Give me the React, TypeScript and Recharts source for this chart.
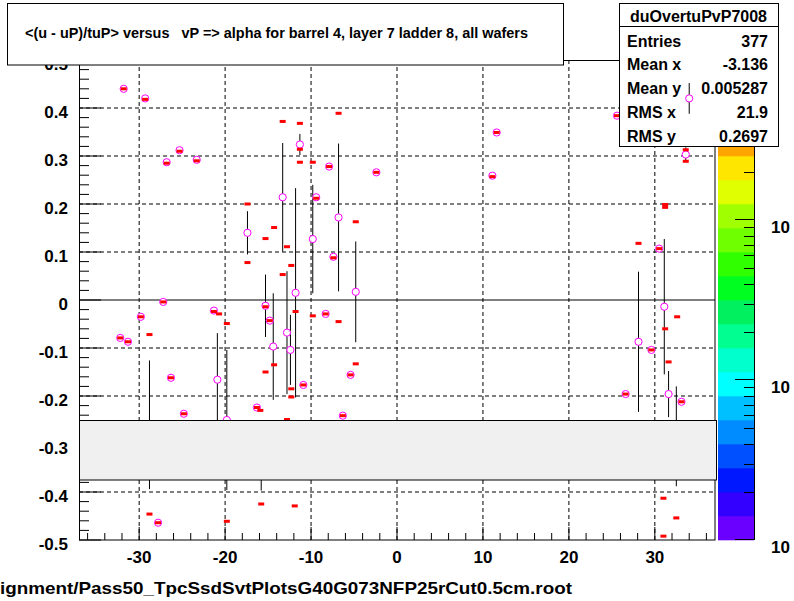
import React from 'react';
import { ScatterChart, Scatter, XAxis, YAxis, ErrorBar, ReferenceLine } from 'recharts';

// ---------- data ----------
// profile means (magenta open circles) with y errors
const profileX = [
  -31.8, -29.3, -25.3, -26.8, -23.3, -27.2, -29.8, -32.2, -31.3, -21.3,
  -26.3, -24.8, -20.9, -17.4, -19.8, -28.8, -11.3, -13.3, -9.8, -6.8,
  -9.4, -7.9, -2.4, -7.4, -11.8, -4.8, -15.3, -14.8, -12.8, -14.4,
  -12.4, -8.3, -10.9, -5.4, -16.3, -6.3, -15.8, -27.8, 11.6, 11.1,
  25.6, 33.6, 30.5, 31.1, 28.1, 29.6, 26.6, 31.6, 33.1, 32.5,
];
const profileY = [
  0.44, 0.42, 0.312, 0.287, 0.292, -0.004, -0.035, -0.079, -0.087, -0.022,
  -0.162, -0.237, -0.166, 0.14, -0.25, -0.26, 0.324, 0.214, 0.127, 0.172,
  0.214, 0.278, 0.266, 0.09, 0.015, 0.017, -0.012, -0.043, -0.068, -0.097,
  -0.104, -0.029, -0.177, -0.156, -0.224, -0.241, -0.324, -0.464, 0.349, 0.259,
  0.384, 0.303, 0.107, -0.014, -0.087, -0.104, -0.196, -0.196, -0.212, -0.284,
];
const profileErr = [
  0, 0, 0, 0, 0, 0, 0, 0, 0, 0,
  0, 0, 0.097, 0.045, 0.146, 0.134, 0.022, 0.113, 0.113, 0.154,
  0, 0, 0, 0, 0.218, 0.105, 0.065, 0, 0.128, 0.111,
  0.073, 0, 0, 0, 0, 0, 0.073, 0, 0, 0,
  0, 0.015, 0, 0.141, 0.146, 0, 0, 0.048, 0, 0.104,
];
// the one point drawn over the statistics box
const topX = [34.0];
const topY = [0.42];
const topErr = [0.032];

// individual entries (small red dashes)
const entryX = [
  -31.8, -29.3, -25.3, -26.8, -23.3, -27.2, -29.8, -32.2, -31.3, -21.3,
  -26.3, -24.8, -9.4, -7.9, -2.4, -7.4, -15.3, -14.8, -8.3, -10.9,
  -5.4, -16.3, -6.3, -27.8, 11.6, 11.1, 25.6, 30.5, 29.6, 26.6,
  33.1, -11.3,
  -17.4, -17.4, -28.8, -20.7, -19.8, -6.8, -13.3, -11.3, -11.3, -9.8,
  -14.3, -15.3, -12.8, -4.8, -12.3, -13.3, -11.8, -9.8, -6.8, -14.3,
  -15.3, -4.8, -12.3, -12.3, -15.9, -12.8, -28.8, -19.8, -15.8, -11.9,
  31.0, 32.5, 31.0, 33.6, 33.6, 31.2, 31.2, 28.1, 32.6, 31.2,
  31.6,
];
const entryY = [
  0.44, 0.418, 0.31, 0.285, 0.29, -0.004, -0.035, -0.079, -0.087, -0.024,
  -0.162, -0.237, 0.212, 0.278, 0.266, 0.088, -0.014, -0.043, -0.029, -0.177,
  -0.156, -0.224, -0.241, -0.464, 0.349, 0.257, 0.384, 0.107, -0.104, -0.196,
  -0.212, 0.314,
  0.2, 0.078, -0.072, -0.029, -0.049, 0.389, 0.372, 0.368, 0.287, 0.287,
  0.151, 0.128, 0.111, 0.163, 0.072, 0.053, -0.024, -0.033, -0.045, -0.135,
  -0.15, -0.133, -0.185, -0.202, -0.23, -0.249, -0.446, -0.461, -0.425, -0.429,
  -0.413, -0.454, -0.492, 0.313, 0.289, 0.193, 0.199, 0.118, -0.035, -0.06,
  -0.129,
];

const xDomain = [-37, 37];
const yDomain = [-0.5, 0.5];
const xMajorTicks = [-30, -20, -10, 0, 10, 20, 30];
const xTickLabels = ['-30', '-20', '-10', '0', '10', '20', '30'];
const yMajorTicks = [-0.5, -0.4, -0.3, -0.2, -0.1, 0, 0.1, 0.2, 0.3, 0.4, 0.5];
const yTickLabels = ['-0.5', '-0.4', '-0.3', '-0.2', '-0.1', '0', '0.1', '0.2', '0.3', '0.4', '0.5'];
const yGridValues = [-0.4, -0.3, -0.2, -0.1, 0.1, 0.2, 0.3, 0.4];

// colour palette of the z axis, bottom to top
const paletteColors = [
  '#6a00ff', '#3300ff', '#0018ff', '#0050ff', '#008cff', '#00c0ff', '#00ffff', '#00ffcc',
  '#00ff90', '#00f060', '#00ff20', '#30ff00', '#70ff00', '#a0ff00', '#e0ff00', '#ffe600',
  '#ffa500', '#ff6000', '#ff3000', '#ff0000',
];
const zLabels = ['10', '10', '10'];

const titleText = '<(u - uP)/tuP> versus   vP => alpha for barrel 4, layer 7 ladder 8, all wafers';
const statsName = 'duOvertuPvP7008';
const statsLabels = ['Entries', 'Mean x', 'Mean y', 'RMS x', 'RMS y'];
const statsValues = ['377', '-3.136', '0.005287', '21.9', '0.2697'];
const fileText = 'ignment/Pass50_TpcSsdSvtPlotsG40G073NFP25rCut0.5cm.root';

// ---------- layout ----------
const W = 794;
const H = 601;
const PL = 79;
const PR = 715;
const PT = 60;
const PB = 540;
const FONT = '"Liberation Sans", Arial, Helvetica, sans-serif';

const xAllTicks: number[] = [];
for (let i = -18; i <= 18; i++) xAllTicks.push(i * 2);
const yAllTicks: number[] = [];
for (let i = -25; i <= 25; i++) yAllTicks.push(Math.round(i * 2) / 100);

const profileData = profileX.map((x, i) => ({ x, y: profileY[i], err: profileErr[i] }));
const entryData = entryX.map((x, i) => ({ x, y: entryY[i] }));
const topData = topX.map((x, i) => ({ x, y: topY[i], err: topErr[i] }));

const findIdx = (arr: number[], v: number) => arr.findIndex((m) => Math.abs(m - v) < 1e-6);

const XTick = (props: any) => {
  const { x, y, payload } = props;
  const idx = findIdx(xMajorTicks, payload.value);
  const major = idx >= 0;
  return (
    <g>
      <line x1={x} x2={x} y1={y} y2={y - (major ? 13 : 7)} stroke="#000" strokeWidth={1} />
      {major && (
        <text x={x} y={y + 23} textAnchor="middle" fontFamily={FONT} fontWeight="bold" fontSize={17} fill="#000">
          {xTickLabels[idx]}
        </text>
      )}
    </g>
  );
};

const YTick = (props: any) => {
  const { x, y, payload } = props;
  const idx = findIdx(yMajorTicks, payload.value);
  const major = idx >= 0;
  return (
    <g>
      <line x1={x} x2={x + (major ? 22 : 10)} y1={y} y2={y} stroke="#000" strokeWidth={1} />
      {major && (
        <text x={x - 11} y={y + 9.5} textAnchor="end" fontFamily={FONT} fontWeight="bold" fontSize={17} fill="#000">
          {yTickLabels[idx]}
        </text>
      )}
    </g>
  );
};

const CircleShape = (p: any) => (
  <circle cx={p.cx} cy={p.cy} r={3.6} fill="#fff" stroke="#ff00ff" strokeWidth={1} />
);
const DashShape = (p: any) => (
  <rect x={p.cx - 3} y={p.cy - 1.5} width={6} height={3} fill="#ff0000" />
);

const Overlay = () => {
  const bandH = (PB - PT) / paletteColors.length;
  const decades = [540, 380, 220];
  const decadePx = 160;
  const minor: number[] = [];
  decades.forEach((d) => {
    for (let m = 2; m <= 9; m++) {
      const yy = d - decadePx * Math.log10(m);
      if (yy > PT) minor.push(yy);
    }
  });
  const rowBase = [46.7, 70.4, 94.2, 118, 141.7];
  return (
    <svg width={W} height={H} style={{ position: 'absolute', left: 0, top: 0, pointerEvents: 'none' }}>
      {/* frame */}
      <rect x={PL + 0.5} y={PT + 0.5} width={PR - PL - 0.5} height={PB - PT - 0.5} fill="none" stroke="#000" strokeWidth={1} />
      {/* grey empty box */}
      <rect x={79.5} y={420.5} width={637} height={59.5} fill="#f0f0f0" stroke="#000" strokeWidth={1} />
      {/* colour bar */}
      {paletteColors.map((c, k) => (
        <rect key={k} x={718} y={PB - (k + 1) * bandH} width={36} height={bandH + 0.3} fill={c} />
      ))}
      <line x1={754.5} x2={754.5} y1={PT} y2={PB} stroke="#000" strokeWidth={1} />
      {decades.map((d, i) => (
        <line key={'M' + i} x1={735} x2={754} y1={d - 0.5} y2={d - 0.5} stroke="#000" strokeWidth={1} />
      ))}
      {minor.map((yy, i) => (
        <line key={'m' + i} x1={744} x2={754} y1={Math.round(yy) + 0.5} y2={Math.round(yy) + 0.5} stroke="#000" strokeWidth={1} />
      ))}
      {decades.map((d, i) => (
        <text key={'zl' + i} x={771} y={d + 13} fontFamily={FONT} fontWeight="bold" fontSize={17} fill="#000">
          {zLabels[i]}
        </text>
      ))}
      {/* title box */}
      <rect x={7.5} y={3.5} width={556} height={61.5} fill="#fff" stroke="#000" strokeWidth={1} />
      <text x={25} y={38} fontFamily={FONT} fontWeight="bold" fontSize={14.4} fill="#000" textLength={503} lengthAdjust="spacingAndGlyphs" style={{ whiteSpace: 'pre' }}>
        {titleText}
      </text>
      {/* stats box */}
      <rect x={619.5} y={3.5} width={159} height={143} fill="#fff" stroke="#000" strokeWidth={1} />
      <line x1={619.5} x2={778.5} y1={26.5} y2={26.5} stroke="#000" strokeWidth={1} />
      <text x={698.5} y={21.5} textAnchor="middle" fontFamily={FONT} fontWeight="bold" fontSize={16} fill="#000">
        {statsName}
      </text>
      {statsLabels.map((l, i) => (
        <g key={'s' + i}>
          <text x={627} y={rowBase[i]} fontFamily={FONT} fontWeight="bold" fontSize={16} fill="#000">{l}</text>
          <text x={768} y={rowBase[i]} textAnchor="end" fontFamily={FONT} fontWeight="bold" fontSize={16} fill="#000">{statsValues[i]}</text>
        </g>
      ))}
      {/* file name */}
      <text x={0} y={594} fontFamily={FONT} fontWeight="bold" fontSize={17} fill="#000" textLength={572} lengthAdjust="spacingAndGlyphs">
        {fileText}
      </text>
    </svg>
  );
};

export default function App() {
  return (
    <div style={{ position: 'absolute', left: 0, top: 0, width: W, height: H, background: '#fff', overflow: 'hidden' }}>
      <div style={{ position: 'absolute', left: 0, top: 0 }}>
        <ScatterChart width={W} height={H} margin={{ top: PT, right: W - PR, bottom: H - PB - 30, left: PL - 60 }}>
          <XAxis
            type="number"
            dataKey="x"
            domain={xDomain}
            ticks={xAllTicks}
            interval={0}
            tick={XTick}
            tickLine={false}
            axisLine={false}
            tickSize={0}
            tickMargin={0}
            height={30}
            allowDataOverflow
          />
          <YAxis
            type="number"
            dataKey="y"
            domain={yDomain}
            ticks={yAllTicks}
            interval={0}
            tick={YTick}
            tickLine={false}
            axisLine={false}
            tickSize={0}
            tickMargin={0}
            width={60}
            allowDataOverflow
          />
          {xMajorTicks.map((v) => (
            <ReferenceLine key={'vx' + v} x={v} stroke="#000" strokeWidth={1} strokeDasharray="4 3" />
          ))}
          {yGridValues.map((v) => (
            <ReferenceLine key={'hy' + v} y={v} stroke="#000" strokeWidth={1} strokeDasharray="4 3" />
          ))}
          <ReferenceLine y={0} stroke="#000" strokeWidth={1} />
          <Scatter data={profileData} shape={CircleShape} isAnimationActive={false}>
            <ErrorBar dataKey="err" direction="y" width={0} stroke="#000" strokeWidth={1} isAnimationActive={false} />
          </Scatter>
          <Scatter data={entryData} shape={DashShape} isAnimationActive={false} />
        </ScatterChart>
      </div>
      <Overlay />
      <div style={{ position: 'absolute', left: 0, top: 0, pointerEvents: 'none' }}>
        <ScatterChart width={W} height={H} margin={{ top: PT, right: W - PR, bottom: H - PB, left: PL }}>
          <XAxis type="number" dataKey="x" domain={xDomain} hide />
          <YAxis type="number" dataKey="y" domain={yDomain} hide />
          <Scatter data={topData} shape={CircleShape} isAnimationActive={false}>
            <ErrorBar dataKey="err" direction="y" width={0} stroke="#000" strokeWidth={1} isAnimationActive={false} />
          </Scatter>
        </ScatterChart>
      </div>
    </div>
  );
}
